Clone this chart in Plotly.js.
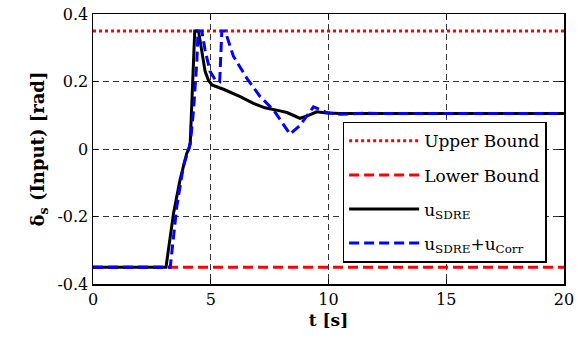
<!DOCTYPE html>
<html>
<head>
<meta charset="utf-8">
<script src="https://cdn.plot.ly/plotly-3.0.1.min.js"></script>
<style>html,body{margin:0;padding:0;background:#fff;}#chart{width:583px;height:344px;}</style>
</head>
<body>
<div id="chart"></div>
<script>
// ---- data ----
const boundT = [0, 20];
const upperBound = [0.35, 0.35];
const lowerBound = [-0.35, -0.35];

const tSDRE = [0, 3.1, 3.42, 3.70, 3.98, 4.08, 4.13, 4.20, 4.27, 4.32, 4.48, 4.62, 4.76, 4.90, 5.05, 5.54, 6.25, 6.81, 7.3, 7.94, 8.23, 8.5, 8.79, 9.1, 9.5, 9.92, 10.5, 20];
const uSDRE = [-0.35, -0.35, -0.19, -0.09, -0.013, 0.002, 0.02, 0.15, 0.26, 0.35, 0.35, 0.29, 0.23, 0.204, 0.19, 0.177, 0.155, 0.135, 0.122, 0.113, 0.108, 0.10, 0.091, 0.098, 0.11, 0.107, 0.105, 0.105];

const tCorr = [0, 3.28, 3.56, 3.84, 4.13, 4.27, 4.41, 4.46, 4.62, 4.76, 4.97, 5.19, 5.38, 5.47, 5.61, 5.96, 6.53, 7.1, 7.66, 8.08, 8.37, 8.79, 9.36, 9.92, 10.5, 11.5, 12.5, 20];
const uCorr = [-0.35, -0.35, -0.17, -0.05, 0.015, 0.116, 0.26, 0.35, 0.35, 0.293, 0.23, 0.205, 0.2, 0.35, 0.35, 0.275, 0.21, 0.155, 0.116, 0.075, 0.044, 0.07, 0.125, 0.108, 0.103, 0.106, 0.105, 0.105];

const xTicks = [0, 5, 10, 15, 20];
const yTicks = [-0.4, -0.2, 0, 0.2, 0.4];
const yTickText = ['-0.4', '-0.2', '0', '0.2', '0.4'];

const FONT = 'DejaVu Serif, serif';

const traces = [
  {x: boundT, y: upperBound, mode: 'lines', name: 'Upper Bound', legendgroup: 'a',
   line: {color: '#ff0000', width: 3, dash: '3px,3px'}},
  {x: boundT, y: lowerBound, mode: 'lines', name: 'Lower Bound', legendgroup: 'b',
   line: {color: '#ff0000', width: 3, dash: '10px,5px'}},
  {x: tSDRE, y: uSDRE, mode: 'lines', name: 'u<sub>SDRE</sub>', legendgroup: 'c',
   line: {color: '#000000', width: 3}},
  {x: tCorr, y: uCorr, mode: 'lines', name: 'u<sub>SDRE</sub>+u<sub>Corr</sub>', legendgroup: 'd',
   line: {color: '#0000ff', width: 3, dash: '10px,5px'}}
];

const axisCommon = {
  showline: true, linecolor: '#000', linewidth: 1.5, mirror: 'ticks',
  ticks: 'inside', ticklen: 5, tickcolor: '#000', tickwidth: 1,
  showgrid: true, gridcolor: '#333', gridwidth: 1, griddash: '6px,4px',
  zeroline: false, tickfont: {family: FONT, size: 16, color: '#000'}
};

const layout = {
  width: 583, height: 344,
  margin: {l: 93, r: 19, t: 14, b: 60},
  paper_bgcolor: '#fff', plot_bgcolor: '#fff',
  showlegend: true,
  font: {family: FONT, color: '#000'},
  xaxis: Object.assign({}, axisCommon, {
    range: [0, 20], tickvals: xTicks, ticktext: xTicks.map(String),
    title: {text: '<b>t [s]</b>', font: {family: FONT, size: 17, color: '#000'}, standoff: 6}
  }),
  yaxis: Object.assign({}, axisCommon, {
    range: [-0.4, 0.4], tickvals: yTicks, ticktext: yTickText,
    title: {text: '<b>δ<sub>s</sub> (Input) [rad]</b>', font: {family: FONT, size: 18, color: '#000'}, standoff: 8}
  }),
  legend: {
    x: 0.53, y: 0.601, xanchor: 'left', yanchor: 'top',
    bgcolor: '#fff', bordercolor: '#000', borderwidth: 1.5,
    font: {family: FONT, size: 17, color: '#000'},
    itemwidth: 70, tracegroupgap: 9
  }
};

Plotly.newPlot('chart', traces, layout, {staticPlot: true, displayModeBar: false});
</script>
</body>
</html>
